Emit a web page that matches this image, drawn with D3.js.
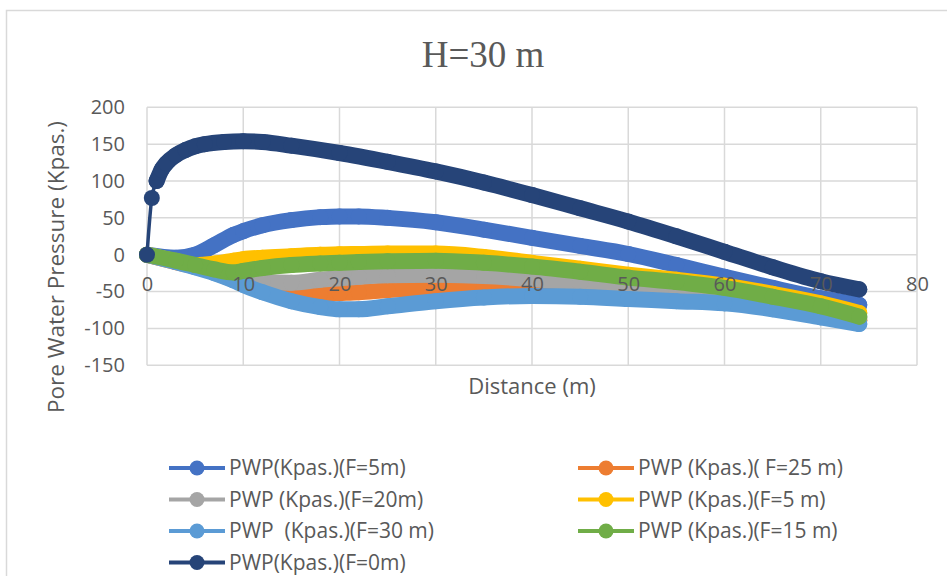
<!DOCTYPE html>
<html>
<head>
<meta charset="utf-8">
<script src="https://cdn.jsdelivr.net/npm/d3@7"></script>
<style>
  html, body { margin: 0; padding: 0; background: #fff; }
  svg { display: block; }
  text { white-space: pre; }
</style>
</head>
<body>
<svg id="chart" width="947" height="576"></svg>
<script>
// Distance samples (m) shared by the six loaded cases
const distance = [0, 3, 5, 7, 9, 10, 12, 15, 18, 20, 22, 25, 30, 35, 40, 45, 50, 55, 60, 65, 70, 74];
// Pore water pressure (Kpas.) for each case
const pwpF5     = [0, -4, 0, 13, 27, 32, 40, 47, 51, 52, 52, 50, 44, 34, 23, 12, 1, -14, -30, -45, -59, -68];
const pwpF25    = [0, -10, -16, -24, -34, -39, -48, -54, -53, -52, -51, -48, -45, -44, -45, -48, -53, -58, -63, -71, -80, -89];
const pwpF20    = [0, -9, -15, -21, -28, -32, -37, -38, -34, -32, -30, -28, -27, -29, -33, -38, -44, -50, -56, -65, -76, -86];
const pwpF5b    = [0, -9, -14, -12, -8, -6, -4, -2, 0, 0.5, 1, 1.5, 1.5, -3, -11, -19, -27, -34, -42, -53, -66, -79];
const pwpF30    = [0, -10, -17, -25, -35, -41, -51, -63, -71, -74, -74, -70, -63, -58, -56, -57, -60, -63, -66, -74, -85, -94];
const pwpF15    = [0, -8, -14, -20, -24, -22, -18, -14, -12, -11, -10, -9, -8, -11, -16, -23, -31, -37, -45, -57, -70, -84];
// Unloaded case (F = 0 m) is sampled more finely near the toe
const distanceF0 = [0, 0.5, 1, 1.5, 2, 3, 4, 5, 6, 8, 10, 12, 15, 20, 25, 30, 35, 40, 45, 50, 55, 60, 65, 70, 74];
const pwpF0      = [0, 77, 100, 115, 124, 135, 142, 147, 150, 153, 154, 153, 148, 138, 126, 113, 98, 81, 63, 45, 25, 4, -17, -36, -47];

const seriesNames = [
  "PWP(Kpas.)(F=5m)",
  "PWP (Kpas.)( F=25 m)",
  "PWP (Kpas.)(F=20m)",
  "PWP (Kpas.)(F=5 m)",
  "PWP  (Kpas.)(F=30 m)",
  "PWP (Kpas.)(F=15 m)",
  "PWP(Kpas.)(F=0m)"
];
const xTicks = [0, 10, 20, 30, 40, 50, 60, 70, 80];
const yTicks = [-150, -100, -50, 0, 50, 100, 150, 200];

const colors = ["#4472c4", "#ed7d31", "#a5a5a5", "#ffc000", "#5b9bd5", "#70ad47", "#264478"];

const series = [
  { name: seriesNames[0], xs: distance, ys: pwpF5, color: colors[0], bandFrom: 0 },
  { name: seriesNames[1], xs: distance, ys: pwpF25, color: colors[1], bandFrom: 0 },
  { name: seriesNames[2], xs: distance, ys: pwpF20, color: colors[2], bandFrom: 0 },
  { name: seriesNames[3], xs: distance, ys: pwpF5b, color: colors[3], bandFrom: 0 },
  { name: seriesNames[4], xs: distance, ys: pwpF30, color: colors[4], bandFrom: 0 },
  { name: seriesNames[5], xs: distance, ys: pwpF15, color: colors[5], bandFrom: 0 },
  { name: seriesNames[6], xs: distanceF0, ys: pwpF0, color: colors[6], bandFrom: 2 }
];

const svg = d3.select("#chart");
const font = "'Open Sans', 'Liberation Sans', sans-serif";
const textColor = "#595959";
const gridColor = "#d9d9d9";

// chart frame
svg.append("rect")
  .attr("x", 6.5).attr("y", 10.5)
  .attr("width", 1000).attr("height", 1000)
  .attr("fill", "#fff").attr("stroke", gridColor).attr("stroke-width", 1.5);

const plot = { left: 147, right: 917, top: 107.3, bottom: 365.3 };
const x = d3.scaleLinear().domain([0, 80]).range([plot.left, plot.right]);
const y = d3.scaleLinear().domain([-150, 200]).range([plot.bottom, plot.top]);

// title
svg.append("text")
  .attr("x", 483).attr("y", 67)
  .attr("text-anchor", "middle")
  .attr("font-family", "'Liberation Serif', 'Times New Roman', serif")
  .attr("font-size", 37)
  .attr("fill", textColor)
  .text("H=30 m");

// gridlines
const grid = svg.append("g");
grid.selectAll("line.h").data(yTicks).join("line")
  .attr("x1", plot.left).attr("x2", plot.right)
  .attr("y1", d => y(d)).attr("y2", d => y(d))
  .attr("stroke", gridColor).attr("stroke-width", 1.5);
grid.selectAll("line.v").data(xTicks).join("line")
  .attr("y1", plot.top).attr("y2", plot.bottom)
  .attr("x1", d => x(d)).attr("x2", d => x(d))
  .attr("stroke", gridColor).attr("stroke-width", 1.5);

// axis titles
svg.append("text")
  .attr("x", 532).attr("y", 394)
  .attr("text-anchor", "middle")
  .attr("font-family", font).attr("font-size", 22)
  .attr("fill", textColor)
  .text("Distance (m)");
svg.append("text")
  .attr("transform", "translate(64,267) rotate(-90)")
  .attr("text-anchor", "middle")
  .attr("font-family", font).attr("font-size", 22.5)
  .attr("fill", textColor)
  .text("Pore Water Pressure (Kpas.)");

// series
const line = d3.line().x(d => x(d[0])).y(d => y(d[1])).curve(d3.curveMonotoneX);
const marks = svg.append("g");
series.forEach(s => {
  const pts = s.xs.map((d, i) => [d, s.ys[i]]);
  const g = marks.append("g");
  g.append("path").attr("d", line(pts))
    .attr("fill", "none").attr("stroke", s.color).attr("stroke-width", 3.5);
  g.append("path").attr("d", line(pts.slice(s.bandFrom)))
    .attr("fill", "none").attr("stroke", s.color).attr("stroke-width", 16)
    .attr("stroke-linejoin", "round").attr("stroke-linecap", "round");
  g.selectAll("circle").data(pts).join("circle")
    .attr("cx", d => x(d[0])).attr("cy", d => y(d[1]))
    .attr("r", 8).attr("fill", s.color);
});

// tick labels are drawn over the series
const fmt = d => String(d);
const yAxis = d3.axisLeft(y).tickValues(yTicks).tickSize(0).tickPadding(22).tickFormat(fmt);
const gy = svg.append("g").attr("transform", `translate(${plot.left},0)`).call(yAxis);
gy.select(".domain").remove();
gy.selectAll("text").attr("font-family", font).attr("font-size", 20).attr("fill", textColor);

const xAxis = d3.axisBottom(x).tickValues(xTicks).tickSize(0).tickPadding(22).tickFormat(fmt);
const gx = svg.append("g").attr("transform", `translate(0,${y(0)})`).call(xAxis);
gx.select(".domain").remove();
gx.selectAll("text").attr("font-family", font).attr("font-size", 20).attr("fill", textColor);

// legend
const legend = svg.append("g");
series.forEach((s, k) => {
  const col = k % 2, row = Math.floor(k / 2);
  const lx = col === 0 ? 169 : 578;
  const ly = 468 + row * 31.5;
  const g = legend.append("g");
  g.append("line").attr("x1", lx).attr("x2", lx + 56).attr("y1", ly).attr("y2", ly)
    .attr("stroke", s.color).attr("stroke-width", 4);
  g.append("circle").attr("cx", lx + 28).attr("cy", ly).attr("r", 7.5).attr("fill", s.color);
  g.append("text").attr("x", lx + 60).attr("y", ly).attr("dy", "0.35em")
    .attr("font-family", font).attr("font-size", 21).attr("fill", textColor)
    .text(s.name);
});
</script>
</body>
</html>
